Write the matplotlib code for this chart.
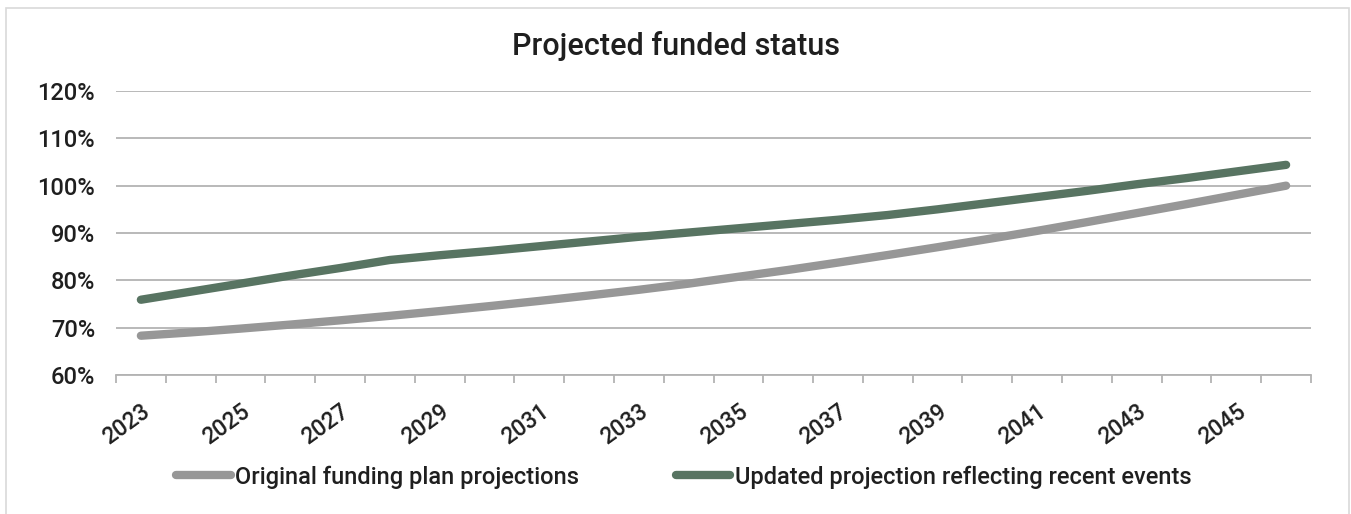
import matplotlib
matplotlib.use("Agg")
import matplotlib.pyplot as plt
from matplotlib.patches import Rectangle
from matplotlib.ticker import FixedLocator, PercentFormatter

# ---- data -------------------------------------------------------------
years = list(range(2023, 2047))
original_plan = [68.3, 69.0, 69.8, 70.65, 71.55, 72.5, 73.5, 74.55, 75.65, 76.8,
                 78.0, 79.3, 80.75, 82.2, 83.75, 85.35, 87.0, 88.7, 90.45, 92.3,
                 94.2, 96.1, 98.05, 100.0]
updated_projection = [75.9, 77.6, 79.3, 81.0, 82.6, 84.3, 85.3, 86.2, 87.2, 88.2,
                      89.2, 90.1, 91.0, 91.9, 92.8, 93.8, 95.0, 96.3, 97.6, 98.9,
                      100.3, 101.6, 103.0, 104.4]
series_names = ["Original funding plan projections",
                "Updated projection reflecting recent events"]
y_ticks = [60, 70, 80, 90, 100, 110, 120]
title_text = "Projected funded status"

# ---- style ------------------------------------------------------------
GRAY = "#979797"
GREEN = "#587462"
GRID = "#b3b3b3"
TEXT = "#1f1f1f"
MAIN_FONT = ["Roboto", "DejaVu Sans"]
WEIGHT = 500

W, H = 1351, 514
fig = plt.figure(figsize=(W / 100, H / 100), dpi=100)
fig.patch.set_facecolor("white")

# outer chart frame
fig.add_artist(Rectangle((6 / W, -0.05), (1349 - 6) / W, 1 - 8 / H + 0.05,
                         transform=fig.transFigure, fill=False,
                         edgecolor="#d9d9d9", linewidth=1.2))

ax = fig.add_axes([116 / W, 1 - 375 / H, (1311 - 116) / W, (375 - 91) / H])
x = list(range(len(years)))

ax.plot(x, original_plan, color=GRAY, lw=6, solid_capstyle="round",
        solid_joinstyle="round", label=series_names[0], zorder=3)
ax.plot(x, updated_projection, color=GREEN, lw=6, solid_capstyle="round",
        solid_joinstyle="round", label=series_names[1], zorder=4)

ax.set_xlim(-0.5, len(years) - 0.5)
ax.set_ylim(y_ticks[0], y_ticks[-1])

# y axis
ax.set_yticks(y_ticks)
ax.yaxis.set_major_formatter(PercentFormatter(decimals=0))
ax.tick_params(axis="y", length=0, pad=15, labelsize=17, labelcolor=TEXT)
ax.yaxis.grid(True, color=GRID, linewidth=1.3)
ax.set_axisbelow(True)

# x axis: category labels every other year, ticks between categories
label_pos = x[::2]
ax.set_xticks(label_pos)
ax.set_xticklabels([str(years[i]) for i in label_pos], rotation=36,
                   ha="right", va="top", rotation_mode="anchor")
ax.tick_params(axis="x", which="major", length=0, pad=18, labelsize=16.5,
               labelcolor=TEXT)
ax.xaxis.set_minor_locator(FixedLocator([i - 0.5 for i in range(len(years) + 1)]))
ax.tick_params(axis="x", which="minor", length=6, width=1.3, color=GRID,
               direction="out")

for side in ("left", "right", "top"):
    ax.spines[side].set_visible(False)
ax.spines["bottom"].set_color(GRID)
ax.spines["bottom"].set_linewidth(1.3)

for lab in ax.get_xticklabels() + ax.get_yticklabels():
    lab.set_family(MAIN_FONT)
    lab.set_weight(WEIGHT)

fig.text(0.5, 1 - 46 / H, title_text, ha="center", va="center",
         fontsize=22, color=TEXT, family=MAIN_FONT, weight=WEIGHT)

handles, labels = ax.get_legend_handles_labels()
leg = fig.legend(handles, labels, loc="center", ncol=2,
                 bbox_to_anchor=(684 / W, 1 - 477 / H), frameon=False,
                 prop={"family": MAIN_FONT, "size": 17, "weight": WEIGHT},
                 handlelength=2.3, handletextpad=0.2, columnspacing=4.1,
                 borderaxespad=0, borderpad=0)
for t in leg.get_texts():
    t.set_color(TEXT)

fig.savefig("out.png", dpi=100, facecolor="white")
